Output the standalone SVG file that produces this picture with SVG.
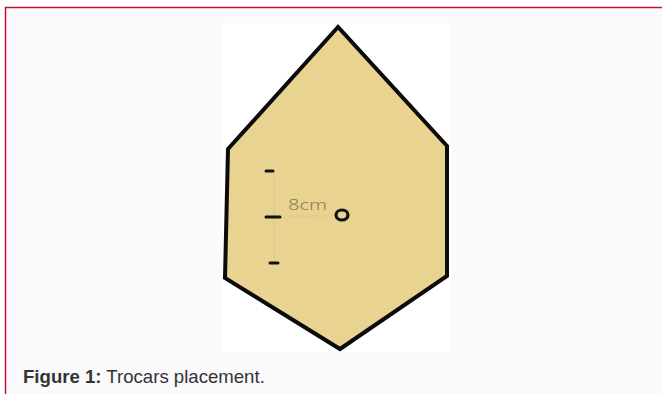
<svg xmlns="http://www.w3.org/2000/svg" width="662" height="394" viewBox="0 0 662 394">
<style>
.cap{font-family:"Liberation Sans",Arial,sans-serif;font-size:18.6px;fill:#333}
.lbl{font-family:"Noto Sans","DejaVu Sans",sans-serif;font-size:14px;fill:#8a7a58;font-weight:300}
.dash{stroke:#111;stroke-width:3;stroke-linecap:round}
</style>
<rect x="0" y="0" width="662" height="394" fill="#ffffff"/>
<rect id="frame" x="5.5" y="7.5" width="670" height="400" fill="#faf9fb" stroke="#c8102e" stroke-width="1.5"/>
<rect id="photo" x="223" y="23" width="228" height="329" fill="#ffffff"/>
<g id="hexagon">
<polygon points="338,27 228,149 225,278 340,349 447,276 447,146" fill="#e9d391" stroke="#0b0b0b" stroke-width="4" stroke-linejoin="miter"/>
</g>
<g id="trocars">
<line x1="274" y1="172" x2="274" y2="263" stroke="#d6c48e" stroke-width="0.8"/>
<line x1="288" y1="216" x2="332" y2="216" stroke="#cdbb88" stroke-width="0.8" stroke-dasharray="1.5,1"/>
<line class="dash" x1="266" y1="171" x2="273" y2="171"/>
<line class="dash" x1="266" y1="217" x2="280" y2="217"/>
<line class="dash" x1="270" y1="263" x2="278" y2="263"/>
<ellipse cx="342" cy="215" rx="6" ry="5" fill="none" stroke="#111" stroke-width="3.2"/>
<text class="lbl" x="288" y="210" textLength="39" lengthAdjust="spacingAndGlyphs">8cm</text>
</g>
<text class="cap" x="23" y="383"><tspan font-weight="bold">Figure 1:</tspan> Trocars placement.</text>
</svg>
